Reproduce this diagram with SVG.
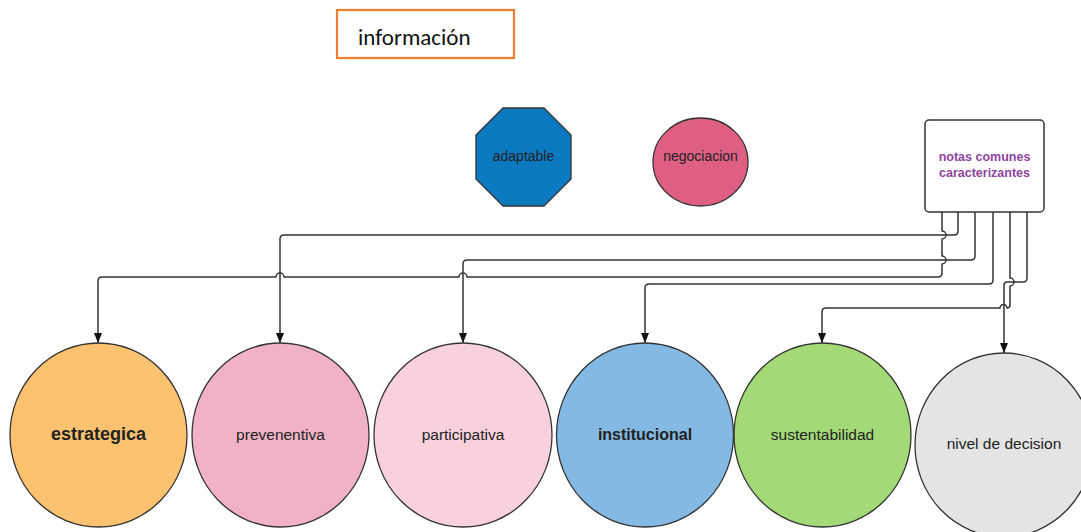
<svg xmlns="http://www.w3.org/2000/svg" width="1081" height="532" viewBox="0 0 1081 532">
<defs>
<style>
.lbl{font-family:"Liberation Sans",Arial,sans-serif;fill:#222;text-anchor:middle;dominant-baseline:central}
.node{stroke:#333;stroke-width:1.3}
.conn{fill:none;stroke:#333;stroke-width:1.5;stroke-linejoin:round}
</style>
<marker id="arr" markerUnits="userSpaceOnUse" markerWidth="10" markerHeight="10" viewBox="0 0 10 10" refX="10" refY="5" orient="auto">
<path d="M0,1 L10,5 L0,9 Z" fill="#111"/>
</marker>
</defs>
<rect width="1081" height="532" fill="#fff"/>

<g id="informacion">
<rect x="337" y="10" width="177" height="48" fill="#fff" stroke="#ed7d31" stroke-width="2.2"/>
<text x="358" y="45" font-family="Carlito,Calibri,'Liberation Sans',sans-serif" font-size="23" fill="#111">información</text>
</g>

<g id="adaptable">
<polygon class="node" points="503,108 544,108 571,135 571,179 544,206 503,206 476,179 476,135" fill="#0b79bf" stroke-linejoin="round"/>
<text class="lbl" x="523.5" y="156" font-size="14">adaptable</text>
</g>

<g id="negociacion">
<ellipse class="node" cx="700.5" cy="162" rx="47.5" ry="44" fill="#de5f82"/>
<text class="lbl" x="700.5" y="156" font-size="14">negociacion</text>
</g>

<g id="notas">
<rect x="925" y="120" width="119" height="92" rx="4" fill="#fff" stroke="#333" stroke-width="1.5"/>
<text x="984.5" y="161" font-family="'Liberation Sans',Arial,sans-serif" font-size="12.5" font-weight="bold" fill="#8e44a0" text-anchor="middle">notas comunes</text>
<text x="984.5" y="177" font-family="'Liberation Sans',Arial,sans-serif" font-size="12.5" font-weight="bold" fill="#8e44a0" text-anchor="middle">caracterizantes</text>
</g>

<g id="connectors">
<path class="conn" marker-end="url(#arr)" d="M958 212 V231 Q958 235 954 235 H284 Q280 235 280 239 V343"/>
<path class="conn" marker-end="url(#arr)" d="M975 212 V256 Q975 260 971 260 H467 Q463 260 463 264 V343"/>
<path class="conn" marker-end="url(#arr)" d="M942 212 V231 A4 4 0 0 1 942 239 V256 A4 4 0 0 1 942 264 V273 Q942 277 938 277 H467 A4 4 0 0 0 459 277 H284 A4 4 0 0 0 276 277 H102 Q98 277 98 281 V343"/>
<path class="conn" marker-end="url(#arr)" d="M993 212 V280 Q993 284 989 284 H649 Q645 284 645 288 V343"/>
<path class="conn" marker-end="url(#arr)" d="M1010 212 V278 A4 4 0 0 1 1010 286 V305 Q1010 308 1007 308 A3.5 3.5 0 0 0 1000 308 H826 Q822 308 822 312 V343"/>
<path class="conn" marker-end="url(#arr)" d="M1027 212 V278 Q1027 282 1023 282 H1007 Q1004 282 1004 285 V353"/>
</g>

<g id="estrategica">
<ellipse class="node" cx="98.5" cy="435" rx="88.5" ry="92" fill="#fcc26f"/>
<text class="lbl" x="98.5" y="434" font-size="18" font-weight="bold" fill="#111">estrategica</text>
</g>
<g id="prevenentiva">
<ellipse class="node" cx="280.5" cy="435" rx="88.5" ry="92" fill="#f2b2c6"/>
<text class="lbl" x="280.5" y="434" font-size="15.5">prevenentiva</text>
</g>
<g id="participativa">
<ellipse class="node" cx="463" cy="435" rx="89" ry="92" fill="#f8d1dc"/>
<text class="lbl" x="463" y="434" font-size="15.5">participativa</text>
</g>
<g id="institucional">
<ellipse class="node" cx="645" cy="435" rx="88.5" ry="92" fill="#83b9e3"/>
<text class="lbl" x="645" y="434" font-size="16" font-weight="bold" fill="#111">institucional</text>
</g>
<g id="sustentabilidad">
<ellipse class="node" cx="822.5" cy="435" rx="88.5" ry="92" fill="#a3d977"/>
<text class="lbl" x="822.5" y="434" font-size="15.5">sustentabilidad</text>
</g>
<g id="nivel">
<ellipse class="node" cx="1004" cy="445" rx="89" ry="92" fill="#e4e4e4"/>
<text class="lbl" x="1004" y="443" font-size="15.5">nivel de decision</text>
</g>
</svg>
